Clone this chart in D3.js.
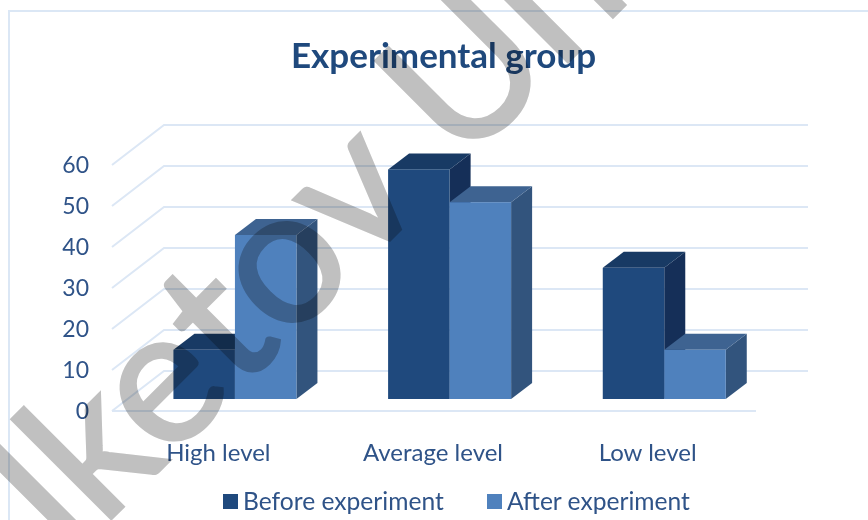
<!DOCTYPE html>
<html>
<head>
<meta charset="utf-8">
<script src="https://cdn.jsdelivr.net/npm/d3@7"></script>
<style>
  body { margin: 0; background: #fff; }
  svg { display: block; font-family: Lato, "Open Sans", sans-serif; }
  .domain { display: none; }
  .axis text { fill: #2f5388; font-family: Lato, "Open Sans", sans-serif; font-size: 24px; }
  .y-axis text { font-size: 23px; }
</style>
</head>
<body>
<div id="chart"></div>
<script>
const categories = ["High level", "Average level", "Low level"];
const seriesNames = ["Before experiment", "After experiment"];
const beforeValues = [12, 56, 32];
const afterValues = [40, 48, 12];
const yTicks = [0, 10, 20, 30, 40, 50, 60];

const width = 868,
    height = 520,
    wall = { dx: 52, dy: -40 },   // depth of the chart box
    inset = { dx: 15.6, dy: -12 }, // how far the bars sit back from the front edge
    depth = { dx: 21, dy: -16 };  // depth of one bar

const colors = {
    "Before experiment": { front: "#1f497d", top: "#183a64", side: "#152f58" },
    "After experiment": { front: "#4f81bd", top: "#3e6391", side: "#32547d" }
};

let svg = d3.select("#chart")
    .append("svg")
    .attr("width", width)
    .attr("height", height);

let x = d3.scaleBand()
    .domain(categories)
    .range([112, 756])
    .paddingInner(0.427)
    .paddingOuter(0.2135);

let xSeries = d3.scaleBand()
    .domain(seriesNames)
    .range([0, x.bandwidth()]);

let y = d3.scaleLinear()
    .domain([0, 60])
    .range([411, 165]);

// outer border, only left and top show in the picture
svg.append("path")
    .attr("d", `M9,${height}V11H${width}`)
    .attr("fill", "none")
    .attr("stroke", "#dbe7f5")
    .attr("stroke-width", 2);

// grid on the side and back walls
let grid = svg.append("g")
    .attr("fill", "none")
    .attr("stroke", "#dce7f5")
    .attr("stroke-width", 2);

grid.selectAll("path")
    .data(yTicks)
    .join("path")
    .attr("d", d => `M${x.range()[0]},${y(d)}l${wall.dx},${wall.dy}H808`);

grid.append("line")
    .attr("x1", x.range()[0])
    .attr("x2", x.range()[1])
    .attr("y1", y(0))
    .attr("y2", y(0));

// bars, each one is a front, a top and a side
let rows = categories.map((c, i) => [
    { category: c, series: seriesNames[0], value: beforeValues[i] },
    { category: c, series: seriesNames[1], value: afterValues[i] }
]).flat();

let bars = svg.append("g")
    .selectAll("g")
    .data(rows)
    .join("g")
    .attr("transform", d => `translate(${x(d.category) + xSeries(d.series) + inset.dx},${inset.dy})`);

let w = xSeries.bandwidth();

bars.append("path")
    .attr("d", d => `M${w},${y(d.value)}l${depth.dx},${depth.dy}V${y(0) + depth.dy}l${-depth.dx},${-depth.dy}Z`)
    .attr("fill", d => colors[d.series].side);

bars.append("path")
    .attr("d", d => `M0,${y(d.value)}l${depth.dx},${depth.dy}h${w}l${-depth.dx},${-depth.dy}Z`)
    .attr("fill", d => colors[d.series].top);

bars.append("rect")
    .attr("width", w)
    .attr("y", d => y(d.value))
    .attr("height", d => y(0) - y(d.value))
    .attr("fill", d => colors[d.series].front);

// axes
svg.append("g")
    .attr("class", "axis y-axis")
    .attr("transform", "translate(92,0)")
    .call(d3.axisLeft(y).tickValues(yTicks).tickSize(0).tickPadding(3));

svg.append("g")
    .attr("class", "axis")
    .attr("transform", `translate(-1,${y(0)})`)
    .call(d3.axisBottom(x).tickSize(0).tickPadding(33));

svg.append("text")
    .attr("x", 443.5)
    .attr("y", 68)
    .attr("text-anchor", "middle")
    .attr("fill", "#1f497d")
    .attr("font-size", 35)
    .attr("font-weight", 700)
    .text("Experimental group");

// legend
let legendX = d3.scaleOrdinal().domain(seriesNames).range([223, 487]);

let legend = svg.append("g")
    .selectAll("g")
    .data(seriesNames)
    .join("g")
    .attr("transform", d => `translate(${legendX(d)},494)`);

legend.append("rect")
    .attr("width", 15)
    .attr("height", 15)
    .attr("fill", d => colors[d].front);

legend.append("text")
    .attr("x", 20)
    .attr("y", 16)
    .attr("fill", "#2f5388")
    .attr("font-size", 24.6)
    .text(d => d);

// watermark across the whole picture
svg.append("text")
    .attr("transform", "translate(70,560) rotate(-45)")
    .attr("fill", "#c0c0c0")
    .attr("stroke", "#c0c0c0")
    .attr("stroke-width", 3)
    .attr("font-size", 191)
    .style("mix-blend-mode", "multiply")
    .text("lketov Uni");
</script>
</body>
</html>
